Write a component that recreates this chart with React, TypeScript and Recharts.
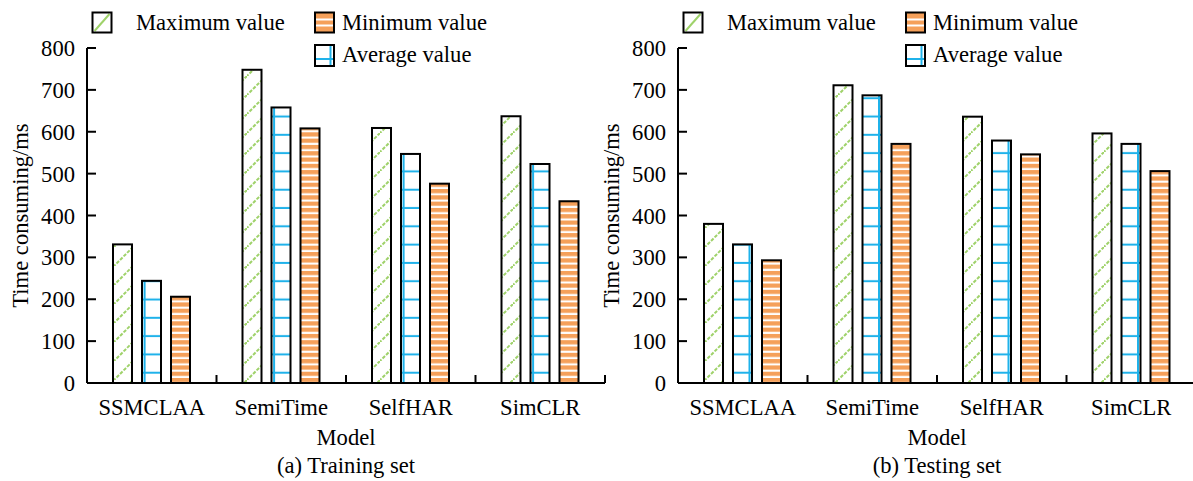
import { Bar, BarChart, XAxis, YAxis } from 'recharts'

const MODELS = ['SSMCLAA', 'SemiTime', 'SelfHAR', 'SimCLR']
const Y_TICKS = [0, 100, 200, 300, 400, 500, 600, 700, 800]

const trainMax = [331, 748, 609, 637]
const trainAvg = [244, 658, 547, 523]
const trainMin = [206, 608, 476, 434]

const testMax = [380, 711, 636, 596]
const testAvg = [331, 687, 579, 571]
const testMin = [293, 571, 546, 506]

const FONT = "'Liberation Serif', 'Times New Roman', serif"
const FS = 22.6
const GREEN = '#9fd26a'
const BLUE = '#1fb2ea'
const ORANGE = '#f5a05a'

const CHART_W = 612
const CHART_H = 481
const AXIS_W = 87
const TOP = 48
const BOTTOM = 383
const RIGHT = 7
const PLOT_W = CHART_W - AXIS_W - RIGHT
const BAND = PLOT_W / MODELS.length

const buildRows = (max: number[], avg: number[], min: number[]) =>
  MODELS.map((model, i) => ({ model, max: max[i], avg: avg[i], min: min[i] }))

function ModelTick({ x, y, payload }: any) {
  return (
    <g>
      <line x1={x + BAND / 2} y1={y} x2={x + BAND / 2} y2={y - 8} stroke="#000" strokeWidth={2} />
      <text x={x} y={y + 32} textAnchor="middle" fontSize={FS} fontFamily={FONT} fill="#000">
        {payload.value}
      </text>
    </g>
  )
}

function PatternBar({ x, y, width, height, fill, vline }: any) {
  if (!height || height <= 0) return null
  const vx = vline === 'left' ? x + 2.6 : x + width - 2.5
  return (
    <g>
      <rect x={x} y={y} width={width} height={height} fill={fill} />
      {vline && <line x1={vx} y1={y} x2={vx} y2={y + height} stroke={BLUE} strokeWidth={2} />}
      <rect x={x} y={y} width={width} height={height} fill="none" stroke="#000" strokeWidth={2} />
    </g>
  )
}

function Patterns({ p }: { p: string }) {
  return (
    <defs>
      <pattern id={`${p}-max`} patternUnits="userSpaceOnUse" width={19} height={19}>
        <rect width={19} height={19} fill="#fff" />
        <path d="M-1,20 L20,-1" stroke={GREEN} strokeWidth={2} strokeDasharray="3.5 1.5" />
      </pattern>
      <pattern id={`${p}-avg`} patternUnits="userSpaceOnUse" width={20} height={18.3}>
        <rect width={20} height={18.3} fill="#fff" />
        <line x1={0} y1={6.7} x2={20} y2={6.7} stroke={BLUE} strokeWidth={2} />
      </pattern>
      <pattern id={`${p}-min`} patternUnits="userSpaceOnUse" width={10} height={6.3}>
        <rect width={10} height={6.3} fill="#fff" />
        <rect y={0} width={10} height={4.2} fill={ORANGE} />
      </pattern>
    </defs>
  )
}

function LegendBox() {
  const maxX = AXIS_W + 5.5
  const minX = AXIS_W + 228
  const textStyle = { fontSize: FS, fontFamily: FONT, fill: '#000' }
  return (
    <g>
      <rect x={maxX} y={12.5} width={19} height={20} fill="#fff" />
      <line x1={maxX + 2} y1={31} x2={maxX + 17} y2={14} stroke={GREEN} strokeWidth={2} />
      <rect x={maxX} y={12.5} width={19} height={20} fill="none" stroke="#000" strokeWidth={2} />
      <text x={AXIS_W + 49} y={30} {...textStyle}>Maximum value</text>

      <rect x={minX} y={12.5} width={19} height={20} fill={ORANGE} />
      <line x1={minX} y1={19.5} x2={minX + 19} y2={19.5} stroke="#fff" strokeWidth={2} />
      <line x1={minX} y1={25.5} x2={minX + 19} y2={25.5} stroke="#fff" strokeWidth={2} />
      <rect x={minX} y={12.5} width={19} height={20} fill="none" stroke="#000" strokeWidth={2} />
      <text x={AXIS_W + 255} y={30} {...textStyle}>Minimum value</text>

      <rect x={minX} y={45} width={19} height={21} fill="#fff" />
      <line x1={minX + 15.5} y1={45} x2={minX + 15.5} y2={66} stroke={BLUE} strokeWidth={2} />
      <line x1={minX} y1={59} x2={minX + 19} y2={59} stroke={BLUE} strokeWidth={2} />
      <rect x={minX} y={45} width={19} height={21} fill="none" stroke="#000" strokeWidth={2} />
      <text x={AXIS_W + 255} y={62} {...textStyle}>Average value</text>
    </g>
  )
}

function Panel({ p, rows, caption, vline }: { p: string; rows: any[]; caption: string; vline: string }) {
  const cx = AXIS_W + PLOT_W / 2
  return (
    <BarChart
      width={CHART_W}
      height={CHART_H}
      data={rows}
      margin={{ top: TOP, right: RIGHT, bottom: CHART_H - BOTTOM - 40, left: 0 }}
      barSize={19}
      barGap={10}
    >
      <Patterns p={p} />
      <XAxis
        dataKey="model"
        height={40}
        interval={0}
        tickSize={0}
        tickMargin={0}
        tickLine={false}
        axisLine={{ stroke: '#000', strokeWidth: 2 }}
        tick={<ModelTick />}
      />
      <YAxis
        type="number"
        width={AXIS_W}
        domain={[0, 800]}
        ticks={Y_TICKS}
        interval={0}
        tickSize={-9}
        tickMargin={21}
        axisLine={{ stroke: '#000', strokeWidth: 2 }}
        tickLine={{ stroke: '#000', strokeWidth: 2 }}
        tick={{ fill: '#000', fontSize: FS, fontFamily: FONT }}
      />
      <Bar dataKey="max" isAnimationActive={false} shape={(s: any) => <PatternBar {...s} fill={`url(#${p}-max)`} />} />
      <Bar dataKey="avg" isAnimationActive={false} shape={(s: any) => <PatternBar {...s} fill={`url(#${p}-avg)`} vline={vline} />} />
      <Bar dataKey="min" isAnimationActive={false} shape={(s: any) => <PatternBar {...s} fill={`url(#${p}-min)`} />} />
      <LegendBox />
      <text x={0} y={0} transform={`translate(28,${(TOP + BOTTOM) / 2}) rotate(-90)`} textAnchor="middle" fontSize={FS} fontFamily={FONT} fill="#000">
        Time consuming/ms
      </text>
      <text x={cx} y={445} textAnchor="middle" fontSize={FS} fontFamily={FONT} fill="#000">Model</text>
      <text x={cx} y={473} textAnchor="middle" fontSize={FS} fontFamily={FONT} fill="#000">{caption}</text>
    </BarChart>
  )
}

export default function App() {
  return (
    <div style={{ position: 'absolute', left: 0, top: 0, width: 1193, height: 481, overflow: 'hidden', background: '#fff' }}>
      <div style={{ position: 'absolute', left: 0, top: 0 }}>
        <Panel p="train" rows={buildRows(trainMax, trainAvg, trainMin)} caption="(a) Training set" vline="left" />
      </div>
      <div style={{ position: 'absolute', left: 591, top: 0 }}>
        <Panel p="test" rows={buildRows(testMax, testAvg, testMin)} caption="(b) Testing set" vline="right" />
      </div>
    </div>
  )
}
